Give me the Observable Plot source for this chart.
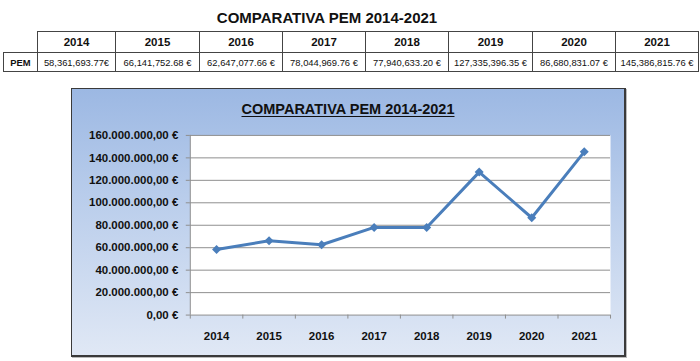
<!DOCTYPE html>
<html>
<head>
<meta charset="utf-8">
<script src="https://cdn.jsdelivr.net/npm/d3@7"></script>
<script src="https://cdn.jsdelivr.net/npm/@observablehq/plot@0.6"></script>
<style>
  html, body { margin: 0; padding: 0; background: #fff; }
  body { width: 700px; height: 361px; position: relative; overflow: hidden; font-family: "Liberation Sans", Arial, sans-serif; color: #111; }
  #title { position: absolute; left: 0; width: 654px; top: 9px; text-align: center; font-weight: bold; font-size: 15px; line-height: 18px; }
  #tbl { position: absolute; left: 3px; top: 31px; border-collapse: collapse; table-layout: fixed; }
  #tbl td { border: 1.5px solid #444; text-align: center; padding: 0; white-space: nowrap; overflow: hidden; }
  #tbl tr.h td { height: 20px; font-weight: bold; font-size: 11.5px; }
  #tbl tr.v td { height: 18px; font-size: 9.4px; }
  #tbl tr.h td.blank { border: none; border-right: 1.5px solid #444; }
  #tbl td.rowhead { font-weight: bold; font-size: 12px; }
  #box { position: absolute; left: 71px; top: 88px; width: 555px; height: 269px; box-sizing: border-box;
         border: 1px solid #3a3a3a; border-right-width: 2px; border-bottom-width: 2px;
         background: linear-gradient(to bottom, #9cb8e3 0%, #bccfec 45%, #e0e8f5 100%);
         box-shadow: 1px 1px 0 #bbb; }
  #ctitle { position: absolute; left: 0; width: 100%; top: 12px; text-align: center; font-weight: bold; font-size: 14.5px; line-height: 17px; text-decoration: underline; text-underline-offset: 2px; }
  #plot { position: absolute; left: 0; top: 0; }
</style>
</head>
<body>
<div id="title">COMPARATIVA PEM 2014-2021</div>
<table id="tbl"></table>
<div id="box">
  <div id="ctitle">COMPARATIVA PEM 2014-2021</div>
  <div id="plot"></div>
</div>
<script>
const titleText = "COMPARATIVA PEM 2014-2021";
const rowLabel = "PEM";
const years = [2014, 2015, 2016, 2017, 2018, 2019, 2020, 2021];
const pem = [58361693.77, 66141752.68, 62647077.66, 78044969.76, 77940633.20, 127335396.35, 86680831.07, 145386815.76];
const tableLabels = ["58,361,693.77€", "66,141,752.68 €", "62,647,077.66 €", "78,044,969.76 €", "77,940,633.20 €", "127,335,396.35 €", "86,680,831.07 €", "145,386,815.76 €"];
const yTicks = [0, 20000000, 40000000, 60000000, 80000000, 100000000, 120000000, 140000000, 160000000];

// Table
const colWidths = [34, 78, 84, 83, 83, 83, 84, 83, 83];
const tbl = document.getElementById("tbl");
const cg = document.createElement("colgroup");
colWidths.forEach(w => { const c = document.createElement("col"); c.style.width = w + "px"; cg.appendChild(c); });
tbl.appendChild(cg);
const trh = document.createElement("tr"); trh.className = "h";
const blank = document.createElement("td"); blank.className = "blank"; trh.appendChild(blank);
years.forEach(y => { const td = document.createElement("td"); td.textContent = y; trh.appendChild(td); });
tbl.appendChild(trh);
const trv = document.createElement("tr"); trv.className = "v";
const rh = document.createElement("td"); rh.className = "rowhead"; rh.textContent = rowLabel; trv.appendChild(rh);
tableLabels.forEach(s => { const td = document.createElement("td"); td.textContent = s; trv.appendChild(td); });
tbl.appendChild(trv);

// Chart
const data = years.map((y, i) => ({year: y, value: pem[i]}));
const locale = d3.formatLocale({decimal: ",", thousands: ".", grouping: [3], currency: ["", " €"]});
const fmt = locale.format(",.2f");
const yFmt = v => fmt(v) + " €";
const boundaries = years.map(y => y - 0.5).concat([years[years.length - 1] + 0.5]);
const lineColor = "#4a7ebb";

const chart = Plot.plot({
  width: 553,
  height: 267,
  marginLeft: 118,
  marginRight: 14,
  marginTop: 46,
  marginBottom: 41,
  style: {fontFamily: "'Liberation Sans', Arial, sans-serif", fontSize: "11.5px", fontWeight: "bold", color: "#111", background: "transparent", overflow: "visible"},
  x: {domain: [years[0] - 0.5, years[years.length - 1] + 0.5], label: null},
  y: {domain: [0, 160000000], label: null},
  marks: [
    Plot.frame({fill: "white", stroke: null}),
    Plot.gridY(yTicks, {stroke: "#8f8f8f", strokeOpacity: 1, strokeWidth: 1}),
    Plot.ruleX([boundaries[0]], {stroke: "#8f8f8f", strokeWidth: 1}),
    Plot.axisY(yTicks, {tickSize: 4, tickPadding: 8, tickFormat: yFmt, stroke: "#8f8f8f", fill: "#111", label: null}),
    Plot.axisX(boundaries, {tickSize: 4, tickFormat: () => "", stroke: "#8f8f8f", label: null}),
    Plot.axisX(years, {tickSize: 0, tickPadding: 17, tickFormat: d => String(d), fill: "#111", label: null}),
    Plot.line(data, {x: "year", y: "value", stroke: lineColor, strokeWidth: 3}),
    Plot.dot(data, {x: "year", y: "value", symbol: "square", rotate: 45, r: 3.6, fill: lineColor, stroke: null})
  ]
});
document.getElementById("plot").appendChild(chart);
</script>
</body>
</html>
